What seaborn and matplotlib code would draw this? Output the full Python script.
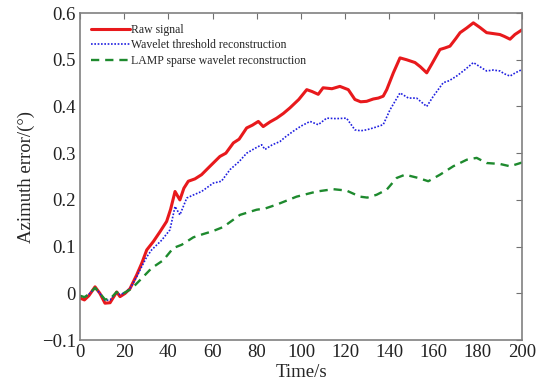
import matplotlib
matplotlib.use("Agg")
import matplotlib.pyplot as plt
import seaborn as sns
import pandas as pd

# ---- data ----
raw_t = [0, 2, 4, 6.8, 9, 11.3, 13.6, 16.6, 18.1, 20.4, 22.6, 25.6, 27.9, 30.2, 33.2, 36.2, 39.2, 41, 43, 45.2,
         47, 49, 52, 55, 58.8, 63.3, 66, 69.4, 72, 75.4, 78, 80.7, 82.9, 86, 89, 92, 95, 99, 102.6, 105,
         107.8, 110, 114, 117.6, 121.4, 124.4, 127, 129.7, 132.7, 135, 137.2, 138.8, 141.8, 144.8, 147.8,
         151.6, 154, 156.9, 159.1, 162.9, 165, 167.4, 170, 172, 175, 178, 181, 184, 187, 190, 192, 194.6,
         196.8, 200]
raw_v = [-0.01, -0.014, -0.005, 0.014, 0.0, -0.021, -0.02, 0.003, -0.007, 0.0, 0.01, 0.039, 0.064, 0.093,
         0.111, 0.132, 0.154, 0.18, 0.218, 0.2, 0.225, 0.24, 0.245, 0.254, 0.272, 0.293, 0.3, 0.322, 0.33,
         0.354, 0.36, 0.368, 0.357, 0.367, 0.375, 0.385, 0.397, 0.415, 0.436, 0.432, 0.426, 0.44, 0.438,
         0.443, 0.436, 0.415, 0.41, 0.411, 0.416, 0.418, 0.422, 0.436, 0.472, 0.504, 0.5, 0.494, 0.485,
         0.472, 0.49, 0.522, 0.525, 0.529, 0.545, 0.558, 0.568, 0.579, 0.569, 0.558, 0.556, 0.554, 0.55,
         0.544, 0.554, 0.564]

wav_t = [0, 2, 4, 6.8, 9, 11.3, 13.6, 16.6, 18.1, 20.4, 22.6, 25.6, 27.9, 30.2, 32.4, 37, 40.7, 43, 45.2,
         48.3, 51, 55, 60.3, 64, 67.9, 72, 75.4, 79, 82.2, 83.7, 87, 90.5, 93, 96.5, 100, 104.1, 107.8,
         111.6, 116, 120.6, 124.4, 127, 129.7, 132.7, 137.2, 140.3, 144.8, 148.6, 152.3, 156.9, 159.9,
         164.4, 167, 170.4, 174, 178, 181, 184, 187, 190, 192, 194.6, 197, 200]
wav_v = [-0.005, -0.008, -0.002, 0.012, 0.0, -0.015, -0.014, 0.003, -0.003, 0.002, 0.01, 0.035, 0.057,
         0.078, 0.093, 0.114, 0.136, 0.186, 0.168, 0.204, 0.21, 0.218, 0.236, 0.24, 0.265, 0.282, 0.3,
         0.31, 0.318, 0.308, 0.318, 0.325, 0.335, 0.347, 0.358, 0.368, 0.361, 0.375, 0.374, 0.375, 0.35,
         0.348, 0.35, 0.354, 0.361, 0.393, 0.429, 0.418, 0.418, 0.4, 0.422, 0.451, 0.455, 0.465, 0.478,
         0.494, 0.485, 0.476, 0.478, 0.476, 0.47, 0.465, 0.472, 0.479]

lamp_t = [0, 2, 4, 6.8, 9, 11.3, 13.6, 16.6, 18.1, 20.4, 22.6, 25, 27.9, 32.4, 37.7, 42.2, 46, 51.3, 55.8,
          60, 64.8, 72.4, 79.9, 84, 89, 98, 107.1, 114.6, 120.6, 126.7, 130, 134.2, 138.8, 143.3, 147.1,
          153.1, 157.6, 162.9, 168.9, 175, 179.5, 184, 190, 194.6, 200]
lamp_v = [-0.005, -0.008, -0.002, 0.012, 0.0, -0.013, -0.012, 0.003, -0.003, 0.002, 0.008, 0.018, 0.032,
          0.054, 0.071, 0.097, 0.104, 0.12, 0.127, 0.133, 0.142, 0.168, 0.179, 0.182, 0.19, 0.207, 0.218,
          0.223, 0.22, 0.207, 0.205, 0.211, 0.222, 0.247, 0.254, 0.247, 0.24, 0.254, 0.272, 0.286, 0.29,
          0.279, 0.277, 0.272, 0.28]

series_names = ["Raw signal", "Wavelet threshold reconstruction", "LAMP sparse wavelet reconstruction"]
x_ticks = [0, 20, 40, 60, 80, 100, 120, 140, 160, 180, 200]
y_ticks = [-0.1, 0, 0.1, 0.2, 0.3, 0.4, 0.5, 0.6]
y_tick_labels = ["\u22120.1", "0", "0.1", "0.2", "0.3", "0.4", "0.5", "0.6"]

# ---- plot ----
sns.set_style("white")
plt.rcParams['font.family'] = ['Liberation Serif', 'DejaVu Serif']
plt.rcParams['mathtext.fontset'] = 'stix'

fig = plt.figure(figsize=(5.37, 3.83), dpi=100)
ax = fig.add_axes([0.149, 0.112, 0.823, 0.854])

sns.lineplot(x=raw_t, y=raw_v, ax=ax, color="#e8191c", linewidth=2.2, label=series_names[0])
sns.lineplot(x=wav_t, y=wav_v, ax=ax, color="#1f1fe0", linewidth=1.2, linestyle=(0, (1, 1)),
             label=series_names[1])
sns.lineplot(x=lamp_t, y=lamp_v, ax=ax, color="#1e8a2e", linewidth=1.7, linestyle=(0, (3.5, 2.5)),
             label=series_names[2])

ax.set_xlim(0, 200)
ax.set_ylim(-0.1, 0.6)
ax.set_xticks(x_ticks)
ax.set_xticklabels([str(v) for v in x_ticks])
ax.set_yticks(y_ticks)
ax.set_yticklabels(y_tick_labels)
ax.tick_params(direction="in", length=4, width=0.8, color="#707070", labelsize=13.5,
               top=True, right=True, labelcolor="#222222", pad=3)
for s in ax.spines.values():
    s.set_color("#808080")
    s.set_linewidth(1.2)

ax.set_xlabel("Time/s", fontsize=13.5, labelpad=2)
ax.set_ylabel("Azimuth error/(°)", fontsize=13.5, labelpad=5)

leg = ax.legend(loc="upper left", frameon=False, fontsize=8.5, handlelength=3.3, handletextpad=0.1,
                borderaxespad=0.5, labelspacing=0.3)

fig.savefig("out.png", dpi=100)
